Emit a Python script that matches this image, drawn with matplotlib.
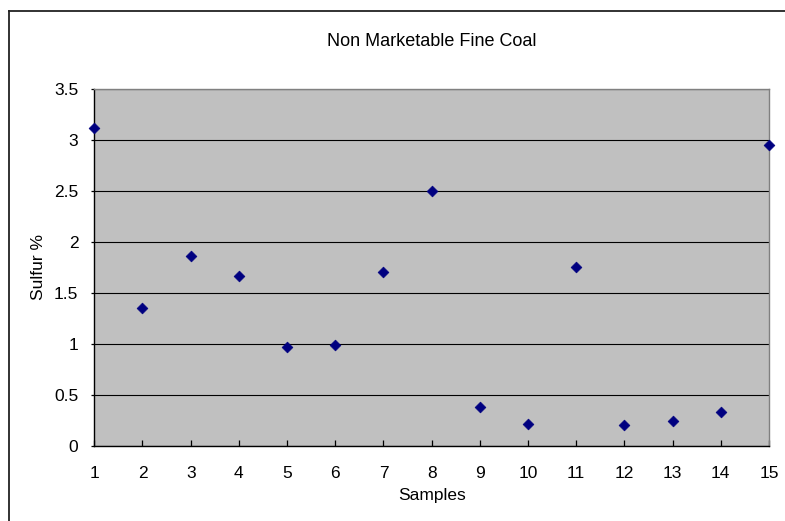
import matplotlib
matplotlib.use("Agg")
import matplotlib.pyplot as plt
from matplotlib.lines import Line2D

plt.rcParams['font.family'] = ['Liberation Sans', 'DejaVu Sans']

# data
samples = [1, 2, 3, 4, 5, 6, 7, 8, 9, 10, 11, 12, 13, 14, 15]
sulfur = [3.12, 1.35, 1.86, 1.66, 0.97, 0.99, 1.70, 2.50, 0.38, 0.21,
          1.75, 0.20, 0.24, 0.33, 2.95]
yticks = [0, 0.5, 1, 1.5, 2, 2.5, 3, 3.5]
ytickLabels = ['0', '0.5', '1', '1.5', '2', '2.5', '3', '3.5']

W, H = 785, 521
fig = plt.figure(figsize=(W / 100, H / 100), dpi=100)
fig.patch.set_facecolor('white')

# chart area border (clipped on right and bottom)
bx = 8.7 / W
by = 1 - 10.7 / H
fig.add_artist(Line2D([bx, bx], [0, by], transform=fig.transFigure,
                      color='#222222', lw=1.3))
fig.add_artist(Line2D([bx, 1], [by, by], transform=fig.transFigure,
                      color='#222222', lw=1.3))

left, right = 94.3 / W, 769 / W
top, bottom = 1 - 89 / H, 1 - 445.5 / H
ax = fig.add_axes([left, bottom, right - left, top - bottom])
ax.set_facecolor('#C0C0C0')

ax.scatter(samples, sulfur, marker='D', s=30, color='#000080',
           edgecolors='#000080', linewidths=0.5, zorder=3, clip_on=False)

ax.set_xlim(1, 15)
ax.set_ylim(0, 3.5)
ax.set_xticks(samples)
ax.set_xticklabels([str(s) for s in samples])
ax.set_yticks(yticks)
ax.set_yticklabels(ytickLabels)

ax.grid(axis='y', color='black', lw=0.8)
ax.set_axisbelow(True)

ax.tick_params(axis='x', direction='in', length=4, width=0.9, pad=15,
               labelsize=12.5, colors='black')
ax.tick_params(axis='y', direction='out', length=2.5, width=0.9, pad=9,
               labelsize=12.5, colors='black')

for side in ['left', 'bottom']:
    ax.spines[side].set_color('black')
    ax.spines[side].set_linewidth(1.0)
for side in ['top', 'right']:
    ax.spines[side].set_color('#808080')
    ax.spines[side].set_linewidth(1.0)

ax.set_title('Non Marketable Fine Coal', fontsize=13, pad=31)
ax.set_xlabel('Samples', fontsize=12.5, labelpad=5)
ax.set_ylabel('Sulfur %', fontsize=12.5, labelpad=6)

fig.savefig('out.png', dpi=100)
